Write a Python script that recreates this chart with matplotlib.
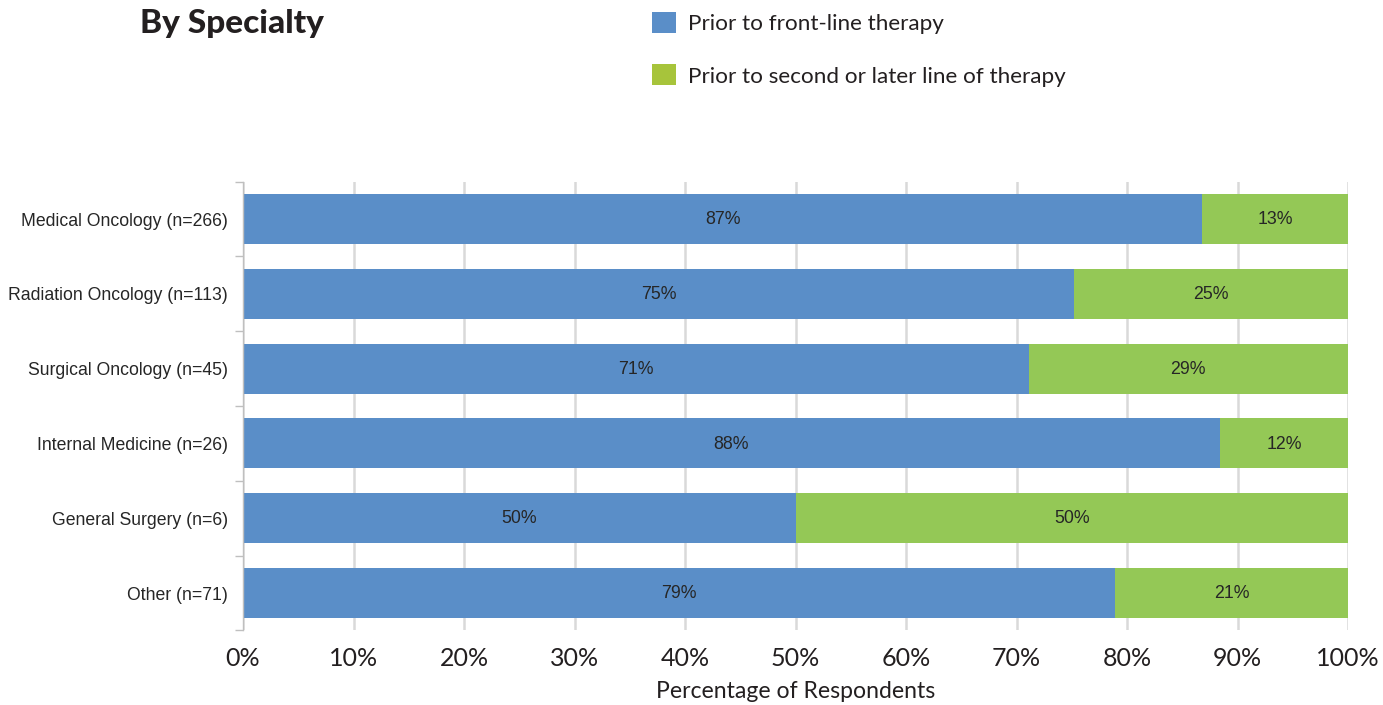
import matplotlib
matplotlib.use("Agg")
import matplotlib.pyplot as plt
from matplotlib.patches import Patch
import numpy as np

categories = ["Medical Oncology (n=266)", "Radiation Oncology (n=113)", "Surgical Oncology (n=45)",
              "Internal Medicine (n=26)", "General Surgery (n=6)", "Other (n=71)"]
front_line = [86.8, 75.2, 71.1, 88.4, 50.0, 78.9]
second_line = [13.2, 24.8, 28.9, 11.6, 50.0, 21.1]
series_names = ["Prior to front-line therapy", "Prior to second or later line of therapy"]
xtick_vals = list(range(0, 101, 10))
xtick_labels = [f"{v}%" for v in xtick_vals]

blue = "#5A8EC8"
green = "#94C856"
legend_green = "#A7C43B"

fig = plt.figure(figsize=(13.83, 7.05), dpi=100)
ax = fig.add_axes([243/1383, (705-630.4)/705, (1348-243)/1383, (630.4-181.6)/705])

y = np.arange(len(categories))
h = 0.67
ax.barh(y, front_line, height=h, color=blue, zorder=3)
ax.barh(y, second_line, left=front_line, height=h, color=green, zorder=3)

for i in range(len(categories)):
    ax.text(front_line[i]/2, y[i] + 0.01, f"{round(front_line[i])}%", ha="center", va="center",
            fontsize=12.8, family="Liberation Sans", color="#262626", zorder=4)
    ax.text(front_line[i] + second_line[i]/2, y[i] + 0.01, f"{round(second_line[i])}%", ha="center",
            va="center", fontsize=12.8, family="Liberation Sans", color="#262626", zorder=4)

ax.set_ylim(len(categories)-0.5, -0.5)
ax.set_xlim(0, 100)
ax.set_yticks(y)
ax.set_yticklabels(categories, family="Liberation Sans", fontsize=12.7, color="#262626")
ax.set_yticks(np.arange(-0.5, len(categories)), minor=True)
ax.tick_params(axis="y", which="major", length=0, pad=11)
ax.tick_params(axis="y", which="minor", length=6, color="#BFBFBF", width=1)

ax.set_xticks(xtick_vals)
ax.set_xticklabels(xtick_labels, family="Lato", fontsize=18, color="#231F20")
ax.tick_params(axis="x", length=0, pad=12)
ax.grid(axis="x", color="#D9D9D9", linewidth=1.8, zorder=0)
ax.set_axisbelow(True)

for s in ["top", "right", "bottom"]:
    ax.spines[s].set_visible(False)
ax.spines["left"].set_color("#BFBFBF")
ax.spines["left"].set_linewidth(1)
ax.spines["left"].set_zorder(5)

ax.set_xlabel("Percentage of Respondents", family="Lato", fontsize=16.6,
              color="#231F20", labelpad=8)

fig.text(140/1383, 1-23/705, "By Specialty", family="Lato", fontweight="black", fontsize=24,
         color="#231F20", ha="left", va="center")

handles = [Patch(facecolor=blue, edgecolor="none"), Patch(facecolor=legend_green, edgecolor="none")]
fig.legend(handles, series_names, loc="upper left", bbox_to_anchor=(643/1383, 1-3/705),
           frameon=False, prop={"family": "Lato", "size": 16.2}, labelcolor="#231F20",
           handlelength=1.05, handleheight=1.05, handletextpad=0.55, labelspacing=1.35,
           borderaxespad=0)

fig.savefig("out.png", dpi=100)
